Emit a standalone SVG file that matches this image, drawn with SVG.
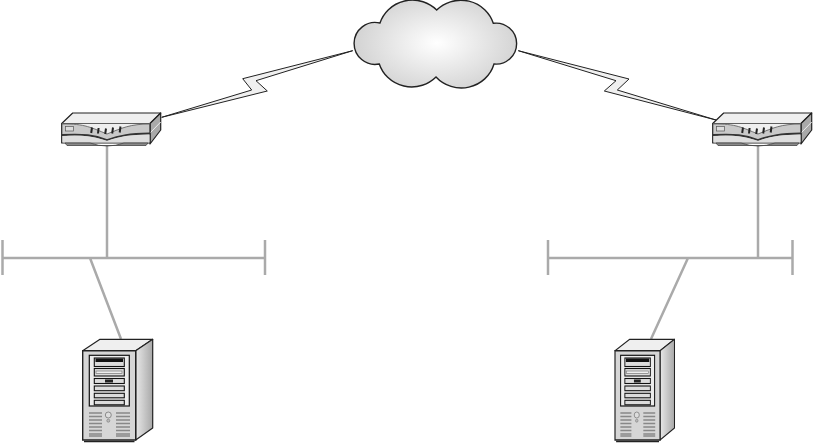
<svg xmlns="http://www.w3.org/2000/svg" width="813" height="443" viewBox="0 0 813 443">
<style>
.lan{fill:none;stroke:#aaa;stroke-width:2.5}
.bolt{fill:#f0f0f0;stroke:#222;stroke-width:1;stroke-linejoin:miter}
.k{stroke:#222;stroke-width:1.2;stroke-linejoin:round}
.vent{stroke:#888;stroke-width:1.5}
.bay{fill:#dcdcdc;stroke:#111;stroke-width:1.1}
</style>
<defs>
<radialGradient id="cg" gradientUnits="userSpaceOnUse" cx="437" cy="43" r="88" gradientTransform="translate(437 43) scale(1 .62) translate(-437 -43)">
<stop offset="0" stop-color="#fff"/><stop offset="1" stop-color="#d0d0d0"/>
</radialGradient>
<linearGradient id="sd" x1="0" x2="1" y1="0" y2="0"><stop offset="0" stop-color="#e8e8e8"/><stop offset="1" stop-color="#a8a8a8"/></linearGradient>
<g id="router">
<path class="k" fill="#efefef" d="M72.700 113H160.700L150 123.500H61.700Z"/>
<path class="k" fill="#a9a9a9" d="M150 123.500L160.700 113V130L150 144Z"/>
<path d="M150 133L160.700 122" stroke="#eee" stroke-width="1" fill="none"/>
<path class="k" fill="#c9c9c9" d="M61.700 123.500H150V143H61.700Z"/>
<path d="M62 124C85 123.500 92 128 107 134C122 128 130 124 150 124V123.500H62Z" fill="#efefef" stroke="#555" stroke-width=".8"/>
<path d="M62 135C84 134 94 135 107 140C120 135 130 134 150 133.500" fill="none" stroke="#333" stroke-width="1.800"/>
<path d="M62.500 136C84 135 94 136 107 141C120 136 130 135 149.500 134.500V142.500H62.500Z" fill="#dedede"/>
<path d="M65 143H90Q107 149 124 143H148L146 145.500H67Z" fill="#8a8a8a" stroke="#444" stroke-width=".8"/>
<rect x="65.500" y="126.500" width="8" height="4.500" fill="#ddd" stroke="#555" stroke-width=".7"/>
<path d="M91.200 133L92 127.500M98 133.500L98.600 128M105.200 134L106 128.500M112.200 133.500L113 127.500M119.700 132.500L120.500 126.500" stroke="#222" stroke-width="2" fill="none"/>
</g>
<g id="server">
<path class="k" fill="#efefef" d="M100 339.300H152.700L135.700 350.700H82.700Z"/>
<path class="k" fill="url(#sd)" d="M135.700 350.700L152.700 339.300V428L135.700 440Z"/>
<path fill="#d6d6d6" stroke="#222" stroke-width="1.400" d="M82.700 350.700H135.700V440H82.700Z"/>
<path d="M84 441.500H134.500" stroke="#222" stroke-width="1.500"/>
<rect x="89.300" y="355.300" width="40" height="50.700" fill="#ececec" stroke="#111" stroke-width="1.200"/>
<rect class="bay" x="94.300" y="358" width="30" height="8.500"/>
<rect x="95.500" y="358.500" width="27.500" height="3.500" fill="#111"/>
<rect class="bay" x="94.300" y="368.500" width="30" height="7.500"/>
<rect x="96" y="371" width="26" height="2.500" fill="#eee" stroke="#777" stroke-width=".7"/>
<rect class="bay" x="94.300" y="378.500" width="30" height="5"/>
<rect x="105" y="379.500" width="8" height="3" fill="#222"/>
<rect class="bay" x="94.300" y="386" width="30" height="4.700"/>
<rect class="bay" x="94.300" y="393.300" width="30" height="4.500"/>
<rect class="bay" x="94.300" y="400.300" width="30" height="4.500"/>
<path class="vent" d="M89 413H102M89 416.500H102M89 420H102M89 423.500H102M89 427H102M89 430.500H102M89 434H102M89 436H102"/>
<path class="vent" d="M116 413H130M116 416.500H130M116 420H130M116 423.500H130M116 427H130M116 430.500H130M116 434H130M116 436H130"/>
<circle cx="108.300" cy="415" r="3" fill="#ddd" stroke="#777" stroke-width=".8"/>
<circle cx="108.300" cy="420.700" r="1.500" fill="#bbb" stroke="#777" stroke-width=".6"/>
</g>
</defs>
<g id="connectors">
<polygon class="bolt" points="161.700,117.300 251.700,90 242.700,78.700 352.700,50.700 256,80.700 267.300,91"/>
<polygon class="bolt" points="518.300,50.700 629,79 617.300,90 716,120 604.300,91 616,80.700"/>
<path class="lan" d="M107 146V258M90 258L121 339M2 258H265M2.500 240V275M265 240V275"/>
<path class="lan" d="M758 146V258M688 258L651 339M548 258H793M548 240V275M792.500 240V275"/>
</g>
<g id="cloud">
<path fill="url(#cg)" stroke="#222" stroke-width="1.400" d="M436.700 10A34 33 0 0 0 380 23A21 21 0 1 0 379.300 64A34 33 0 0 0 436 77A34 33 0 0 0 494 64A20.500 20.500 0 1 0 493.300 23.300A34 33 0 0 0 436.700 10Z"/>
</g>
<g id="router-left"><use href="#router"/></g>
<g id="router-right"><use href="#router" transform="translate(651 0)"/></g>
<g id="server-left"><use href="#server"/></g>
<g id="server-right"><use href="#server" transform="translate(615 0) scale(.85 1) translate(-82.700 0)"/></g>
</svg>
